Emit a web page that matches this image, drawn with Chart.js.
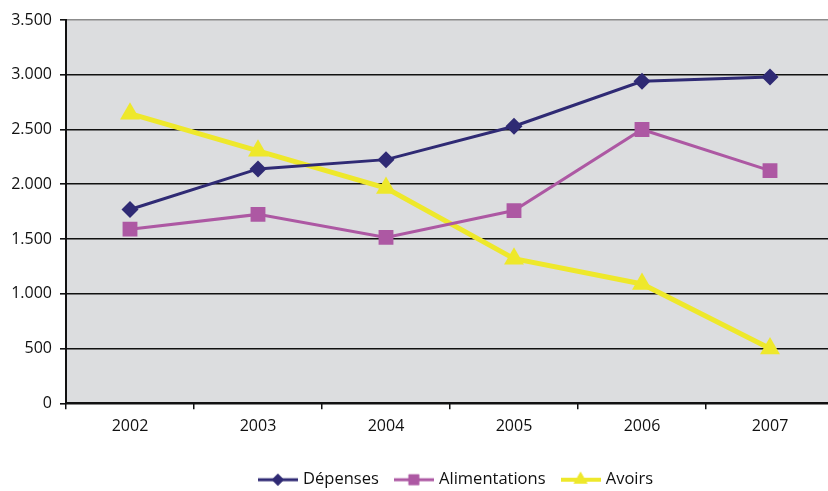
<!DOCTYPE html>
<html>
<head>
<meta charset="utf-8">
<script src="https://cdn.jsdelivr.net/npm/chart.js@4.4.1/dist/chart.umd.min.js"></script>
<style>
  html, body { margin: 0; padding: 0; background: #fff; overflow: hidden; }
  #wrap { width: 920px; height: 498px; }
</style>
</head>
<body>
<div id="wrap"><canvas id="myChart" width="920" height="498"></canvas></div>
<script>
// données
let years = ['2002', '2003', '2004', '2005', '2006', '2007'];
let depenses = [1770, 2140, 2225, 2530, 2940, 2980];
let alimentations = [1590, 1725, 1515, 1760, 2500, 2125];
let avoirs = [2645, 2305, 1965, 1320, 1090, 500];
let yTicks = [0, 500, 1000, 1500, 2000, 2500, 3000, 3500];

let navy = '#2f2a74';
let purple = '#ad58a3';
let yellow = '#eee82b';

// petite image "ligne + marqueur" pour la légende
function legendIcon(color, style, radius, lw) {
  let c = document.createElement('canvas');
  c.width = 40;
  c.height = 20;
  let g = c.getContext('2d');
  g.strokeStyle = color;
  g.lineWidth = lw;
  g.beginPath();
  g.moveTo(0, 10);
  g.lineTo(40, 10);
  g.stroke();
  g.fillStyle = color;
  Chart.helpers.drawPoint(g, { pointStyle: style, radius: radius, borderWidth: 0 }, 20, 10);
  g.fill();
  return c;
}

let plotBg = {
  id: 'plotBg',
  afterLayout(chart) {
    // la légende est centrée sur toute la largeur du canvas
    chart.legend.right = chart.width - 6;
  },
  beforeDraw(chart) {
    let a = chart.chartArea;
    let ctx = chart.ctx;
    ctx.save();
    ctx.fillStyle = '#dcdddf';
    ctx.fillRect(a.left, a.top, a.right - a.left, a.bottom - a.top);
    ctx.restore();
  }
};

let ctx = document.getElementById('myChart').getContext('2d');

let myChart = new Chart(ctx, {
  type: 'line',
  data: {
    labels: years,
    datasets: [{
      label: 'Dépenses',
      data: depenses,
      borderColor: navy,
      backgroundColor: navy,
      borderWidth: 3,
      pointStyle: 'rectRot',
      pointRadius: 8.5,
      pointBorderWidth: 0,
      tension: 0
    }, {
      label: 'Alimentations',
      data: alimentations,
      borderColor: purple,
      backgroundColor: purple,
      borderWidth: 3,
      pointStyle: 'rect',
      pointRadius: 10.5,
      pointBorderWidth: 0,
      tension: 0
    }, {
      label: 'Avoirs',
      data: avoirs,
      borderColor: yellow,
      backgroundColor: yellow,
      borderWidth: 5,
      pointStyle: 'triangle',
      pointRadius: 11.5,
      pointBorderWidth: 0,
      tension: 0
    }]
  },
  options: {
    responsive: false,
    animation: false,
    layout: { padding: { top: 20, right: 86, left: 0, bottom: 0 } },
    font: { family: '"Open Sans", sans-serif', size: 16 },
    plugins: {
      tooltip: { enabled: false },
      legend: {
        position: 'bottom',
        labels: {
          color: '#111',
          font: { family: '"Open Sans", sans-serif', size: 16.5 },
          usePointStyle: true,
          pointStyleWidth: 34,
          padding: 18,
          generateLabels: (chart) => {
            let items = Chart.defaults.plugins.legend.labels.generateLabels(chart);
            let icons = [
              legendIcon(navy, 'rectRot', 6, 3),
              legendIcon(purple, 'rect', 7.5, 3),
              legendIcon(yellow, 'triangle', 8, 4)
            ];
            items.forEach((it, i) => { it.pointStyle = icons[i]; });
            return items;
          }
        }
      }
    },
    scales: {
      x: {
        offset: true,
        afterFit: (scale) => {
          scale.height += 9;
        },
        grid: {
          offset: true,
          drawOnChartArea: false,
          drawTicks: true,
          tickLength: 6,
          color: '#111',
          lineWidth: 1.5
        },
        border: { display: true, color: '#111', width: 2 },
        ticks: {
          color: '#111',
          padding: 8,
          font: { family: '"Open Sans", sans-serif', size: 16 }
        }
      },
      y: {
        min: 0,
        max: 3500,
        afterBuildTicks: (scale) => {
          scale.ticks = yTicks.map(v => ({ value: v }));
        },
        afterFit: (scale) => {
          scale.width = 66;
        },
        grid: {
          color: (c) => c.tick && c.tick.value === 3500 ? '#8c8c8c' : '#111',
          tickColor: '#111',
          lineWidth: 1.6,
          tickLength: 6
        },
        border: { display: true, color: '#111', width: 2 },
        ticks: {
          color: '#111',
          padding: 8,
          font: { family: '"Open Sans", sans-serif', size: 16 },
          callback: (v) => v.toString().replace(/\B(?=(\d{3})+(?!\d))/g, '.')
        }
      }
    }
  },
  plugins: [plotBg]
});
</script>
</body>
</html>
